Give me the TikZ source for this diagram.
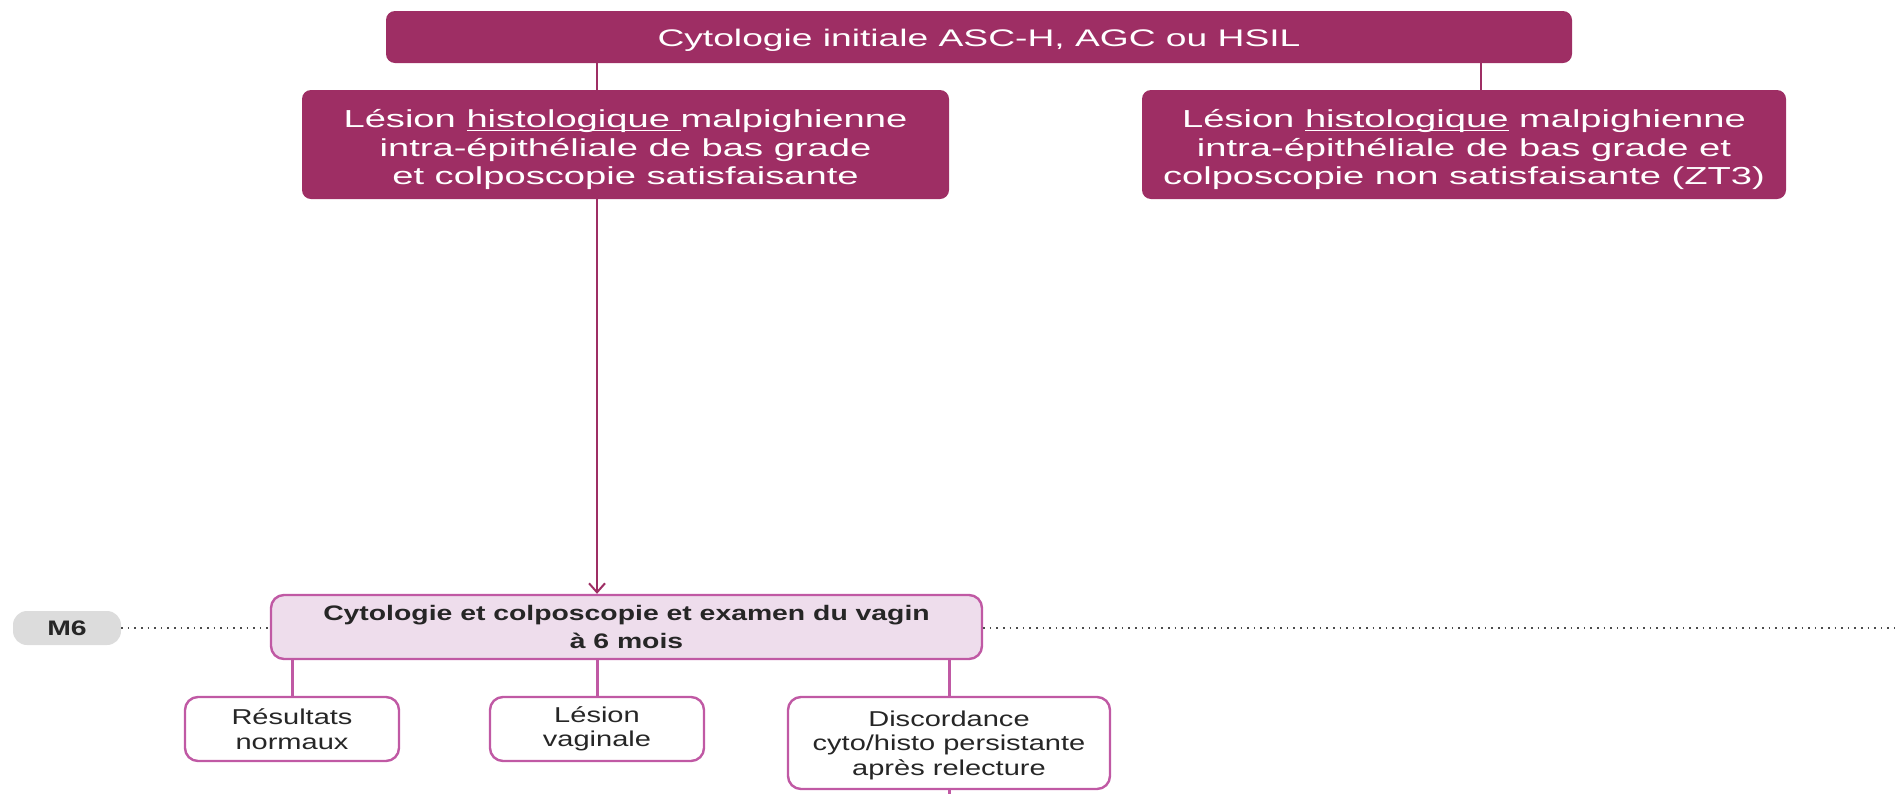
\documentclass[tikz,border=0pt]{standalone}
\usepackage{fontspec}
\setmainfont[FakeStretch=1.55]{Liberation Sans}
\newfontfamily\lowfont[FakeStretch=1.35]{Liberation Sans}
\usetikzlibrary{arrows.meta}

\definecolor{plum}{HTML}{9E2E64}
\definecolor{orchid}{HTML}{C059A4}
\definecolor{blush}{HTML}{EEDDEC}
\definecolor{ink}{HTML}{262626}
\definecolor{pebble}{HTML}{DCDCDC}

% underline drawn just below the baseline
\newcommand\uline[1]{\setbox0\hbox{#1}\rlap{\rule[-0.13em]{\wd0}{0.055em}}\box0\relax}
% lower the contents without changing the reported size
\newcommand\dropby[2]{\raisebox{-#1}[\height][\depth]{#2}}

\tikzset{
  darkbox/.style={fill=plum, draw=none, rounded corners=9pt, text=white,
    align=center, inner sep=0pt},
  lightbox/.style={fill=blush, draw=orchid, line width=2.4pt, rounded corners=13pt,
    text=ink, align=center, inner sep=0pt,
    font=\lowfont\bfseries\fontsize{21}{27.5}\selectfont},
  whitebox/.style={fill=white, draw=orchid, line width=2.4pt, rounded corners=13pt,
    text=ink, align=center, inner sep=0pt,
    font=\lowfont\fontsize{21.5}{24.5}\selectfont},
  tag/.style={fill=pebble, draw=none, rounded corners=14pt, text=ink,
    inner sep=0pt, font=\lowfont\bfseries\fontsize{21}{24}\selectfont},
  darklink/.style={draw=plum, line width=2pt},
  lightlink/.style={draw=orchid, line width=3pt},
  timeline/.style={draw=black!70, line width=1.6pt, dash pattern=on 1.6pt off 5pt},
}

\begin{document}
\begin{tikzpicture}[x=1pt, y=-1pt]
  \useasboundingbox (0,0) rectangle (1895,793);

  % top level
  \node[darkbox, minimum width=1186pt, minimum height=52pt,
        font=\fontsize{24}{27}\selectfont] (init) at (979,37)
    {\dropby{3pt}{Cytologie initiale ASC-H, AGC ou HSIL}};

  % histology branches
  \node[darkbox, minimum width=647pt, minimum height=109pt,
        font=\fontsize{24.6}{28.4}\selectfont] (sat) at (625.5,144.5)
    {\dropby{6pt}{\begin{tabular}{@{}c@{}}Lésion \uline{histologique\ }malpighienne\\
     intra-épithéliale de bas grade\\
     et colposcopie satisfaisante\end{tabular}}};
  \node[darkbox, minimum width=644pt, minimum height=109pt,
        font=\fontsize{24.6}{28.4}\selectfont] (nonsat) at (1464,144.5)
    {\dropby{6pt}{\begin{tabular}{@{}c@{}}Lésion \uline{histologique} malpighienne\\
     intra-épithéliale de bas grade et\\
     colposcopie non satisfaisante (ZT3)\end{tabular}}};

  % six-month visit
  \node[lightbox, minimum width=711pt, minimum height=64pt] (visit) at (626.5,627)
    {Cytologie et colposcopie et examen du vagin\\à 6 mois};
  \node[tag, minimum width=108pt, minimum height=34pt] (m6) at (67,628) {M6};

  % outcomes
  \node[whitebox, minimum width=214pt, minimum height=64pt] (normal) at (292,729)
    {Résultats\\normaux};
  \node[whitebox, minimum width=214pt, minimum height=64pt] (vaginal) at (597,729)
    {Lésion\\vaginale};
  \node[whitebox, minimum width=322pt, minimum height=92pt] (discord) at (949,743)
    {\dropby{3pt}{\begin{tabular}{@{}c@{}}Discordance\\cyto/histo persistante\\après relecture\end{tabular}}};

  % junction points
  \coordinate (jl) at (597,0);
  \coordinate (jr) at (1481,0);
  \coordinate (edge) at (1895,628);
  \coordinate (floor) at (0,795);

  % connectors
  \draw[darklink] (init.south -| jl) -- (sat.north -| jl);
  \draw[darklink] (init.south -| jr) -- (nonsat.north -| jr);
  \draw[darklink, -{Straight Barb[length=9pt, width=16pt, line width=2pt]}]
    (sat.south -| jl) -- (visit.north -| jl);

  \draw[timeline] (m6.east) -- (visit.west |- m6.east);
  \draw[timeline] (visit.east |- edge) -- (edge);

  \draw[lightlink] (visit.south -| normal) -- (normal.north);
  \draw[lightlink] (visit.south -| vaginal) -- (vaginal.north);
  \draw[lightlink] (visit.south -| discord) -- (discord.north);
  \draw[lightlink] (discord.south) -- (discord.south |- floor);
\end{tikzpicture}
\end{document}
